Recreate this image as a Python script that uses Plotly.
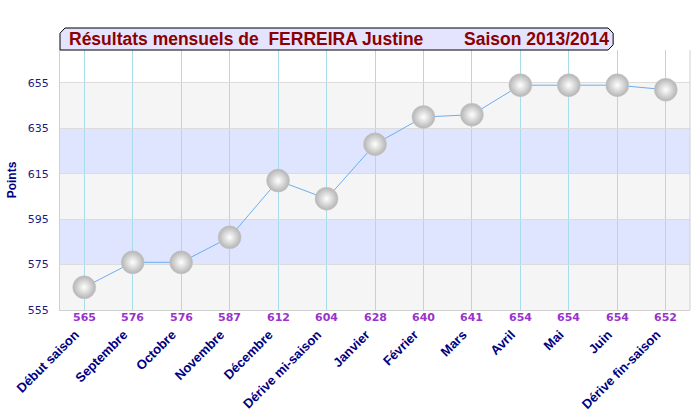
import plotly.graph_objects as go

categories = ["Début saison", "Septembre", "Octobre", "Novembre", "Décembre",
              "Dérive mi-saison", "Janvier", "Février", "Mars", "Avril", "Mai",
              "Juin", "Dérive fin-saison"]
points = [565, 576, 576, 587, 612, 604, 628, 640, 641, 654, 654, 654, 652]
y_ticks = [555, 575, 595, 615, 635, 655]
bands = [(555, 575, "#f5f5f5"), (575, 595, "#dfe5ff"), (595, 615, "#f5f5f5"),
         (615, 635, "#dfe5ff"), (635, 655, "#f5f5f5")]
title_left = "Résultats mensuels de  FERREIRA Justine"
title_right = "Saison 2013/2014"

x_idx = list(range(len(categories)))

fig = go.Figure()
fig.add_trace(go.Scatter(
    x=x_idx, y=points, mode="lines+markers",
    line=dict(color="#6aaef0", width=1),
    marker=dict(size=23, color="#b4b4b4",
                gradient=dict(type="radial", color="#ffffff"),
                line=dict(color="#c8c8c8", width=0.5)),
    hoverinfo="skip", showlegend=False,
))

shapes = []
for y0, y1, c in bands:
    shapes.append(dict(type="rect", xref="paper", yref="y", x0=0, x1=1,
                       y0=y0, y1=y1, fillcolor=c, line=dict(width=0),
                       layer="below"))
# title box with bevelled corners (paper coords)
x0, x1 = 0.0, 0.878
y0, y1 = 1.0, 1.0846
dx, dy = 0.008, 0.02
path = (f"M {x0},{y0} L {x0},{y1-dy} L {x0+dx},{y1} L {x1-dx},{y1} "
        f"L {x1},{y1-dy} L {x1},{y0+dy} L {x1-dx},{y0} Z")
shapes.append(dict(type="path", xref="paper", yref="paper", path=path,
                   fillcolor="#e4e4ff", line=dict(color="#000000", width=1),
                   layer="above"))

annotations = []
for i, v in enumerate(points):
    annotations.append(dict(x=i, y=0, xref="x", yref="paper", yanchor="top",
                            yshift=1, text=str(v), showarrow=False,
                            font=dict(family="DejaVu Sans", size=11,
                                      color="#9933cc", weight="bold")))
annotations.append(dict(x=0.011, y=1.043, xref="paper", yref="paper",
                        xanchor="left", yanchor="middle", text=title_left,
                        showarrow=False,
                        font=dict(family="Liberation Sans", size=17.5,
                                  color="#8b0000", weight="bold")))
annotations.append(dict(x=0.874, y=1.043, xref="paper", yref="paper",
                        xanchor="right", yanchor="middle", text=title_right,
                        showarrow=False,
                        font=dict(family="Liberation Sans", size=17.5,
                                  color="#8b0000", weight="bold")))

fig.update_layout(
    width=700, height=420,
    margin=dict(l=60, r=10, t=50, b=110),
    paper_bgcolor="#ffffff", plot_bgcolor="#ffffff",
    shapes=shapes, annotations=annotations,
    xaxis=dict(
        range=[-0.5, len(categories) - 0.5],
        tickmode="array", tickvals=x_idx, ticktext=categories,
        tickangle=-45, ticks="", ticklabelstandoff=11, ticklabelshift=-9,
        tickfont=dict(family="Liberation Sans", size=13, color="#000080",
                      weight="bold"),
        showgrid=True, gridcolor="#a8dcea", gridwidth=1,
        showline=True, linecolor="#d0d0d0", mirror=False,
        zeroline=False, fixedrange=True, automargin=False,
    ),
    yaxis=dict(
        range=[555, 669.5],
        tickmode="array", tickvals=y_ticks,
        tickfont=dict(family="DejaVu Sans", size=11, color="#1c1c80"),
        showgrid=True, gridcolor="#dcdcdc", gridwidth=1,
        showline=True, linecolor="#d0d0d0",
        zeroline=False, ticks="", ticklabelstandoff=8,
        title=dict(text="Points", standoff=8,
                   font=dict(family="Liberation Sans", size=12,
                             color="#000080", weight="bold")),
        fixedrange=True, automargin=False,
    ),
)
fig.add_shape(type="line", xref="paper", yref="paper", x0=1, x1=1, y0=0, y1=1,
              line=dict(color="#d0d0d0", width=1))

fig.write_html("out.html", config={"displayModeBar": False},
               post_script="document.body.style.margin='0';")
